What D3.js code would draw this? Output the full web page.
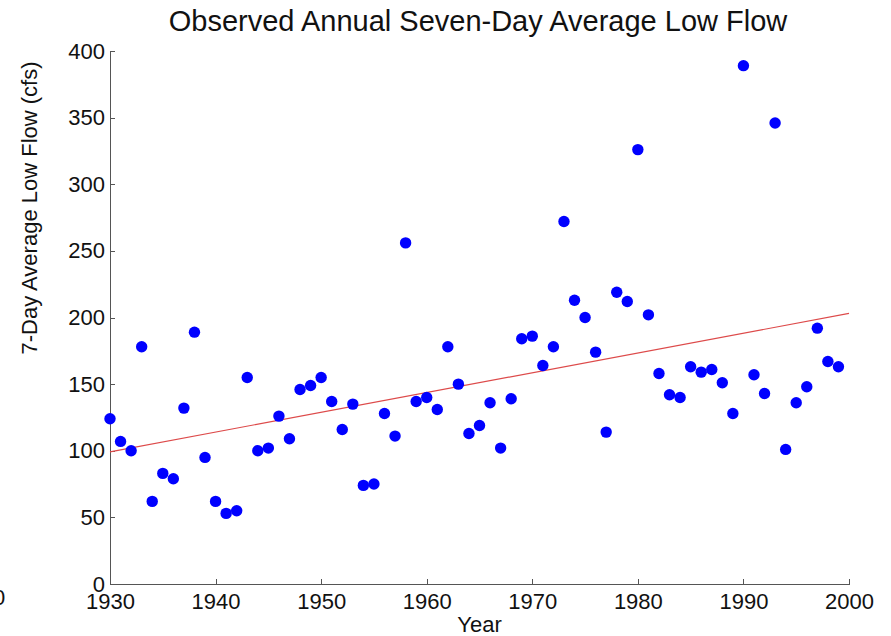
<!DOCTYPE html>
<html>
<head>
<meta charset="utf-8">
<script src="https://cdn.jsdelivr.net/npm/d3@7"></script>
<style>
  html, body { margin: 0; padding: 0; background: #fff; }
  svg { display: block; font-family: "Liberation Sans", Arial, Helvetica, sans-serif; }
  .axis path, .axis line { stroke: #555; stroke-width: 1; shape-rendering: crispEdges; }
  .axis text { font-size: 22px; fill: #111; }
</style>
</head>
<body>
<svg id="chart" width="891" height="636"></svg>
<script>
// Observation years and annual seven-day average low flow (cfs)
const years = [
  1930, 1931, 1932, 1933, 1934, 1935, 1936, 1937, 1938, 1939,
  1940, 1941, 1942, 1943, 1944, 1945, 1946, 1947, 1948, 1949,
  1950, 1951, 1952, 1953, 1954, 1955, 1956, 1957, 1958, 1959,
  1960, 1961, 1962, 1963, 1964, 1965, 1966, 1967, 1968, 1969,
  1970, 1971, 1972, 1973, 1974, 1975, 1976, 1977, 1978, 1979,
  1980, 1981, 1982, 1983, 1984, 1985, 1986, 1987, 1988, 1989,
  1990, 1991, 1992, 1993, 1994, 1995, 1996, 1997, 1998, 1999
];
const lowFlow = [
  124, 107, 100, 178, 62, 83, 79, 132, 189, 95,
  62, 53, 55, 155, 100, 102, 126, 109, 146, 149,
  155, 137, 116, 135, 74, 75, 128, 111, 256, 137,
  140, 131, 178, 150, 113, 119, 136, 102, 139, 184,
  186, 164, 178, 272, 213, 200, 174, 114, 219, 212,
  326, 202, 158, 142, 140, 163, 159, 161, 151, 128,
  389, 157, 143, 346, 101, 136, 148, 192, 167, 163
];

const xTicks = [1930, 1940, 1950, 1960, 1970, 1980, 1990, 2000];
const yTicks = [0, 50, 100, 150, 200, 250, 300, 350, 400];

const svg = d3.select("#chart");
const plot = { left: 110, right: 849, top: 51, bottom: 584 };

const x = d3.scaleLinear().domain([1930, 2000]).range([plot.left, plot.right]);
const y = d3.scaleLinear().domain([0, 400]).range([plot.bottom, plot.top]);

// Axes with inward-pointing ticks
svg.append("g")
  .attr("class", "axis")
  .attr("transform", `translate(0,${plot.bottom})`)
  .call(d3.axisBottom(x).tickValues(xTicks).tickFormat(d3.format("d"))
    .tickSizeInner(-5).tickSizeOuter(0).tickPadding(9));

svg.append("g")
  .attr("class", "axis")
  .attr("transform", `translate(${plot.left},0)`)
  .call(d3.axisLeft(y).tickValues(yTicks).tickFormat(d3.format("d"))
    .tickSizeInner(-5).tickSizeOuter(0).tickPadding(5));

// Least-squares trend line over the observed record
const mx = d3.mean(years), my = d3.mean(lowFlow);
let sxy = 0, sxx = 0;
years.forEach((yr, i) => { sxy += (yr - mx) * (lowFlow[i] - my); sxx += (yr - mx) * (yr - mx); });
const slope = sxy / sxx, intercept = my - slope * mx;
const trendYears = [1930, 2000];

svg.append("path")
  .datum(trendYears)
  .attr("fill", "none")
  .attr("stroke", "#dd4a4a")
  .attr("stroke-width", 1.2)
  .attr("d", d3.line().x(d => x(d)).y(d => y(intercept + slope * d)));

// Observations
svg.append("g")
  .selectAll("circle")
  .data(years)
  .join("circle")
  .attr("cx", d => x(d))
  .attr("cy", (d, i) => y(lowFlow[i]))
  .attr("r", 5.7)
  .attr("fill", "#0000ff");

// Titles
svg.append("text")
  .attr("x", 478).attr("y", 31)
  .attr("text-anchor", "middle")
  .attr("font-size", 29)
  .attr("fill", "#111")
  .text("Observed Annual Seven-Day Average Low Flow");

svg.append("text")
  .attr("x", (plot.left + plot.right) / 2).attr("y", 632)
  .attr("text-anchor", "middle")
  .attr("font-size", 22)
  .attr("fill", "#111")
  .text("Year");

svg.append("text")
  .attr("transform", "translate(37,208) rotate(-90)")
  .attr("text-anchor", "middle")
  .attr("font-size", 22)
  .attr("fill", "#111")
  .text("7-Day Average Low Flow (cfs)");

// Stray zero label at the left margin
svg.append("text")
  .attr("x", -1).attr("y", 605)
  .attr("text-anchor", "middle")
  .attr("font-size", 22)
  .attr("fill", "#111")
  .text("0");
</script>
</body>
</html>
